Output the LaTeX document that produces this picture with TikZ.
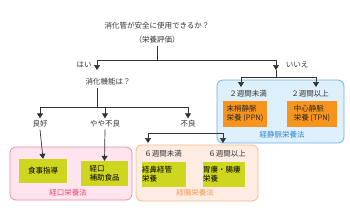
\documentclass[tikz,border=0pt]{standalone}
\usepackage{fontspec}
\newfontfamily\cjk{Noto Sans CJK JP}
\usetikzlibrary{arrows.meta,positioning}
\definecolor{linegray}{HTML}{333333}
\definecolor{leaf}{HTML}{CFD61F}
\definecolor{ivorange}{HTML}{F7941D}
\definecolor{oralfill}{HTML}{FDE4EE}
\definecolor{oraldraw}{HTML}{F48BA0}
\definecolor{oraltext}{HTML}{EE4668}
\definecolor{entfill}{HTML}{FEECE2}
\definecolor{entdraw}{HTML}{F9B98A}
\definecolor{enttext}{HTML}{F39A50}
\definecolor{ivfill}{HTML}{DDF0FB}
\definecolor{ivdraw}{HTML}{6FB1E0}
\definecolor{ivtext}{HTML}{2E86CC}

\begin{document}
\begin{tikzpicture}[x=1pt,y=-1pt,font=\cjk\fontsize{7.5}{9}\selectfont,>={Triangle[width=6pt,length=5pt]}]
    \tikzset{
      region/.style={draw, rounded corners=6pt, line width=0.8pt},
      leafbox/.style={fill=leaf, align=left, inner sep=0pt, text=black},
      ivbox/.style={fill=ivorange, align=left, inner sep=0pt, text=black!85, minimum height=26pt},
      txt/.style={text=linegray, inner sep=2pt},
      arrow/.style={->, draw=linegray, line width=0.7pt},
      link/.style={draw=linegray, line width=0.7pt}
    }
    \useasboundingbox (0,0) rectangle (350,220);

    % method areas
    \node[region, draw=oraldraw, fill=oralfill, minimum width=122pt, minimum height=53pt] (oral) at (71,173.5) {};
    \node[region, draw=entdraw, fill=entfill, minimum width=122pt, minimum height=56pt] (enteral) at (197,173) {};
    \node[region, draw=ivdraw, fill=ivfill, minimum width=127pt, minimum height=63pt] (iv) at (280.5,111.5) {};
    \node[text=oraltext] (oralname) at (68,193) {経口栄養法};
    \node[text=enttext] (entname) at (195,193) {経腸栄養法};
    \node[text=ivtext] (ivname) at (282,135) {経静脈栄養法};

    % questions
    \node[txt] (ask) at (157,26) {消化管が安全に使用できるか？};
    \node[txt] (assess) at (157,40) {（栄養評価）};
    \coordinate (fork) at (157,60);
    \coordinate (yes) at (97,70);
    \coordinate (no) at (276,70);
    \draw[link] (assess.south) -- (fork);
    \draw[arrow] (fork) -| (yes);
    \draw[arrow] (fork) -| (no);
    \node[txt] (hai) at (84,65) {はい};
    \node[txt] (iie) at (297,65) {いいえ};

    \node[txt] (digest) at (108,82) {消化機能は？};
    \coordinate (fork2) at (97,107);
    \draw[link] (digest.south -| fork2) -- (fork2);
    \node[txt] (good) at (40,124) {良好};
    \node[txt] (fair) at (105,124) {やや不良};
    \node[txt] (poor) at (188,124) {不良};
    \draw[arrow] (fork2) -| (good.north);
    \draw[arrow] (fork2) -| (fair.north);
    \draw[arrow] (fork2) -| (poor.north);

    % oral
    \node[leafbox, minimum width=48pt, minimum height=24pt] (diet) at (43,171) {食事指導};
    \node[leafbox, minimum width=47pt, minimum height=25pt] (supp) at (104.5,173.5) {経口\\補助食品};
    \draw[arrow] (good.south) -- (diet.north);
    \draw[arrow] (fair.south) -- (supp.north);

    % enteral
    \coordinate (split) at (poor.south |- 0,133);
    \coordinate (under6) at (148,143);
    \coordinate (over6) at (223,143);
    \draw[arrow] (split) -| (under6);
    \draw[arrow] (split) -| (over6);
    \node[txt] (short6) at (163,154) {６週間未満};
    \node[txt] (long6) at (227,154) {６週間以上};
    \node[leafbox, text width=44pt, minimum height=25pt] (tube) at (164,174.5) {経鼻経管\\栄養};
    \node[leafbox, text width=42pt, minimum height=25pt] (stoma) at (224,174.5) {胃瘻・腸瘻\\栄養};

    % parenteral
    \coordinate (nobranch) at (276,77);
    \coordinate (under2) at (241,87);
    \coordinate (over2) at (316,87);
    \draw[link] (no) -- (nobranch);
    \draw[arrow] (nobranch) -| (under2);
    \draw[arrow] (nobranch) -| (over2);
    \node[txt] (short2) at (248,94) {２週間未満};
    \node[txt] (long2) at (310,94) {２週間以上};
    \node[ivbox, minimum width=44pt] (ppn) at (245,114) {末梢静脈\\栄養 (PPN)};
    \node[ivbox, minimum width=50pt] (tpn) at (312,114) {中心静脈\\栄養 (TPN)};
  \end{tikzpicture}
\end{document}
